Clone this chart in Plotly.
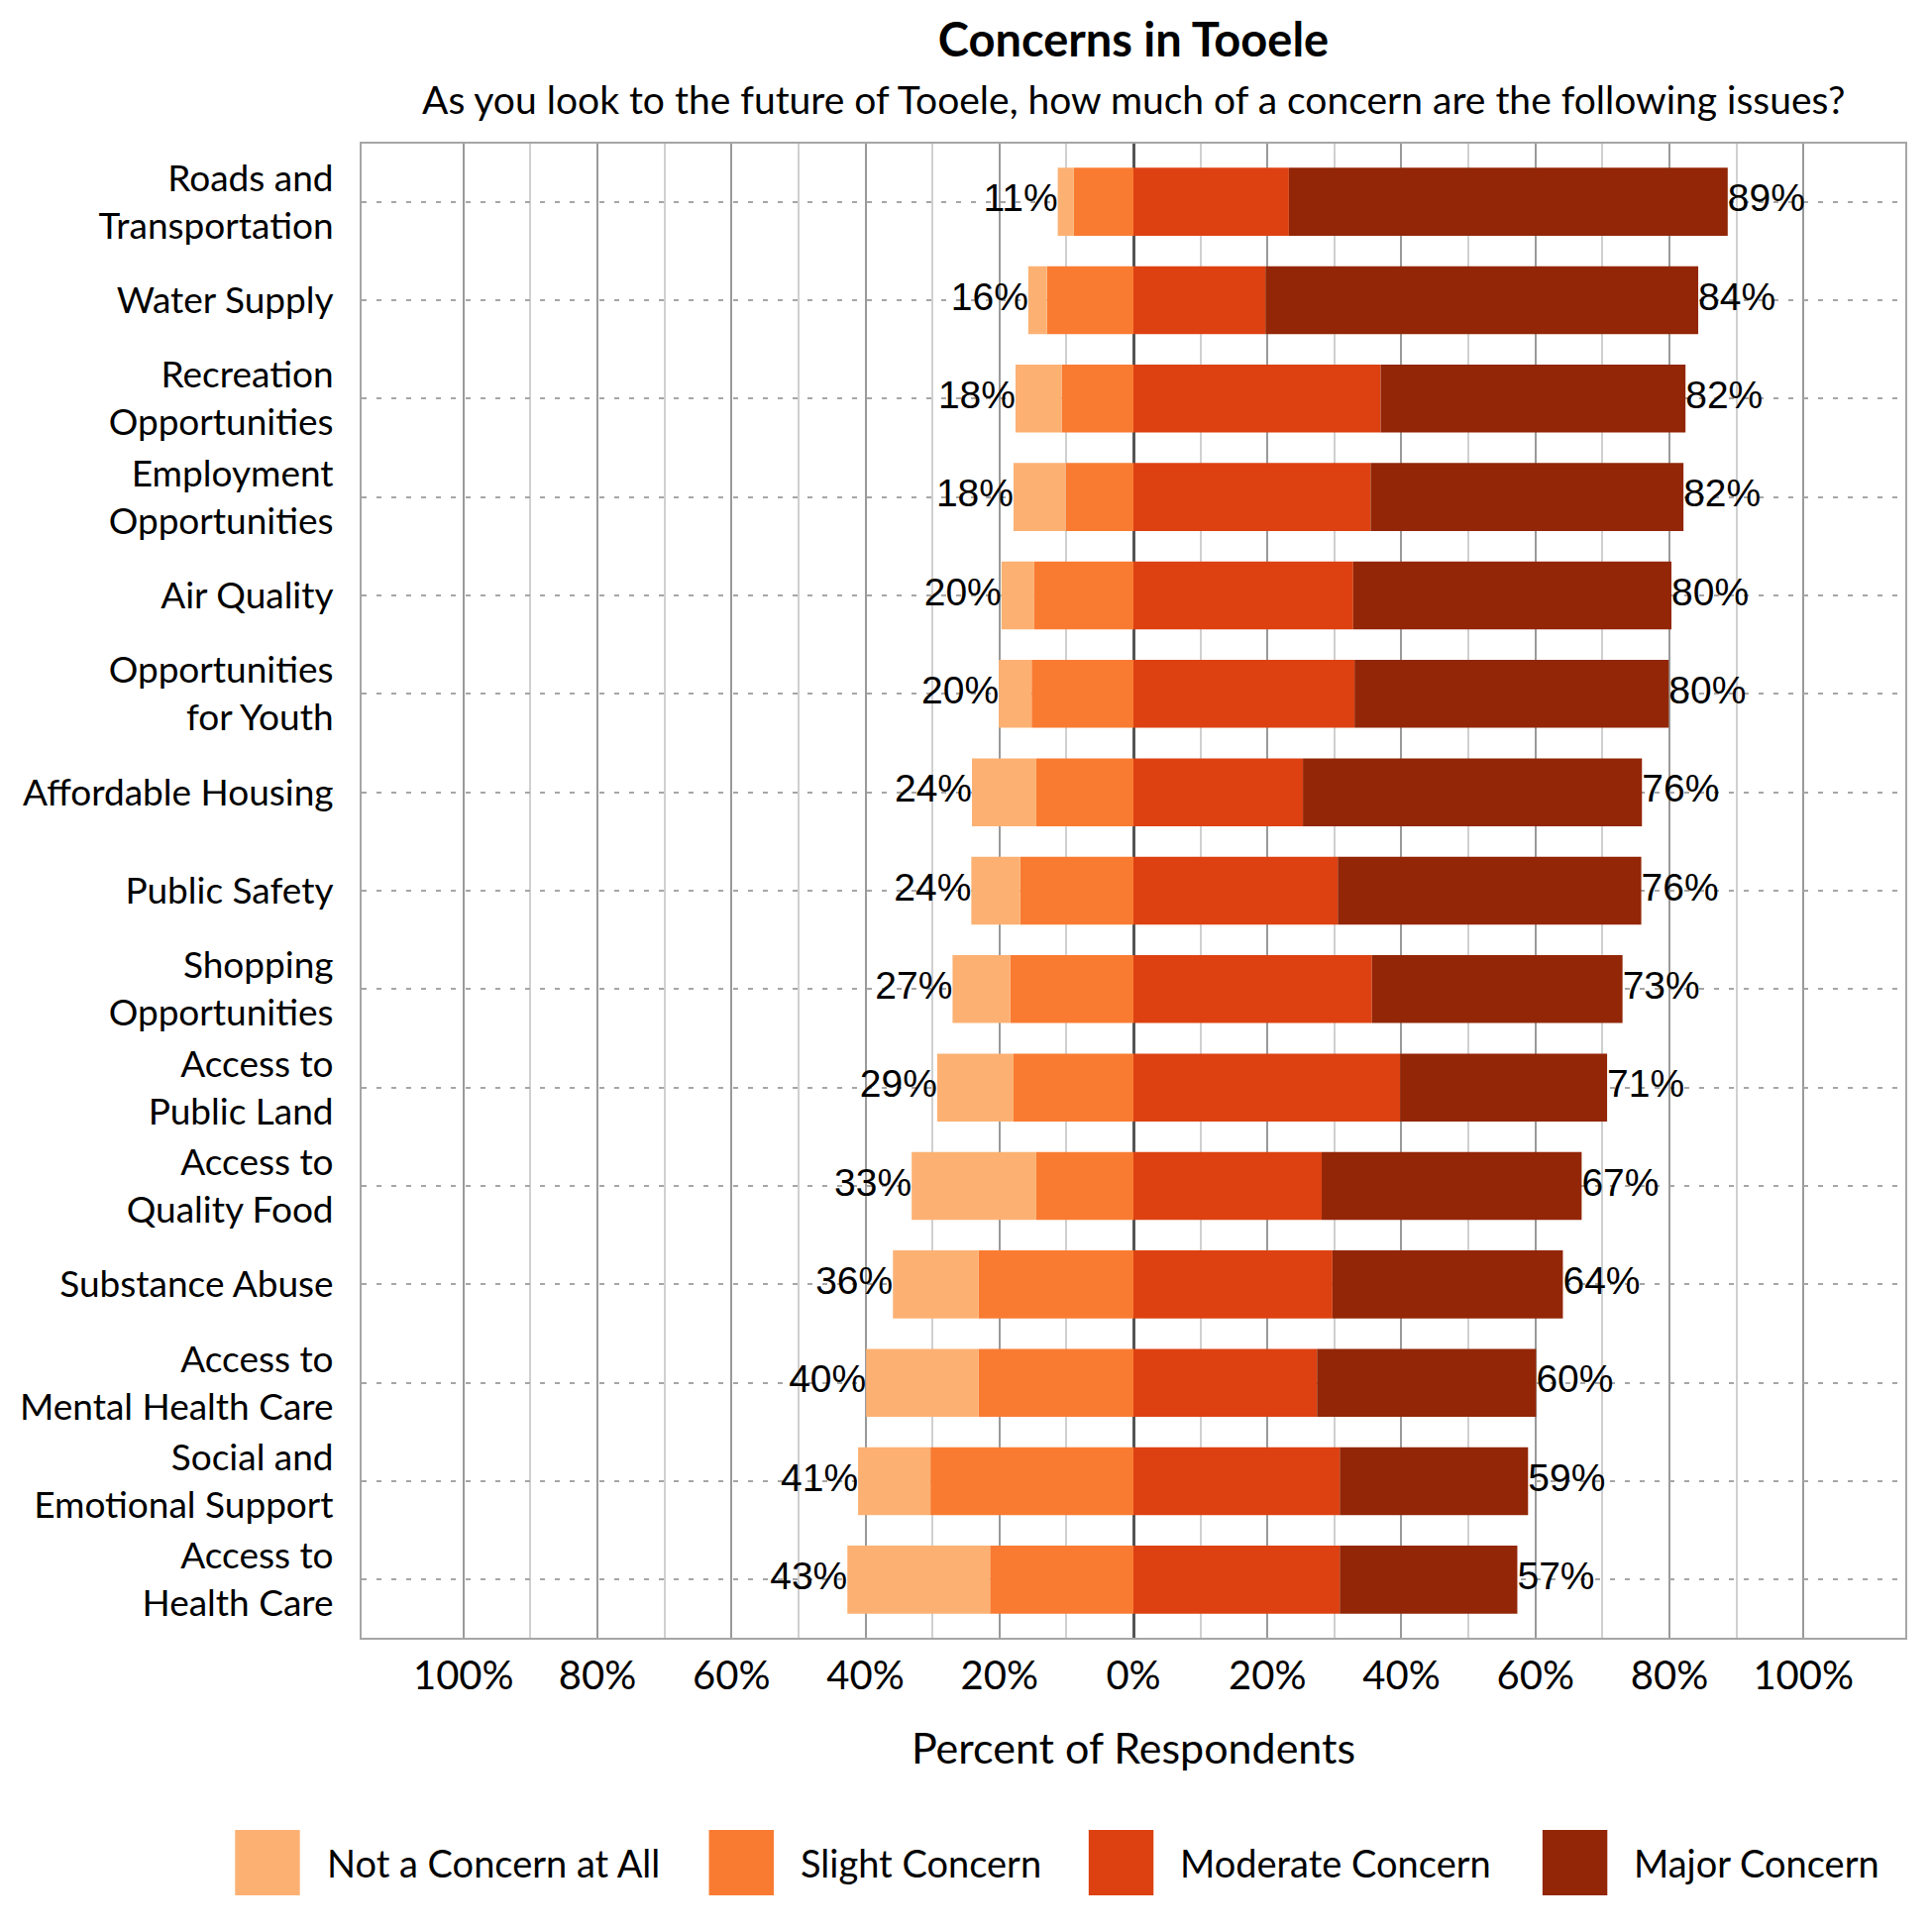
import plotly.graph_objects as go

categories = [
    "Roads and<br>Transportation",
    "Water Supply",
    "Recreation<br>Opportunities",
    "Employment<br>Opportunities",
    "Air Quality",
    "Opportunities<br>for Youth",
    "Affordable Housing",
    "Public Safety",
    "Shopping<br>Opportunities",
    "Access to<br>Public Land",
    "Access to<br>Quality Food",
    "Substance Abuse",
    "Access to<br>Mental Health Care",
    "Social and<br>Emotional Support",
    "Access to<br>Health Care",
]

# percent of respondents
not_concern = [2.4, 2.8, 6.9, 7.8, 4.9, 4.9, 9.6, 7.3, 8.6, 11.4, 18.6, 12.8, 16.8, 10.8, 21.3]
slight = [8.9, 12.9, 10.7, 10.1, 14.8, 15.2, 14.5, 16.9, 18.4, 17.9, 14.5, 23.1, 23.1, 30.3, 21.4]
moderate = [23.2, 19.7, 36.9, 35.4, 32.8, 33.0, 25.3, 30.5, 35.6, 39.8, 28.1, 29.7, 27.4, 30.8, 30.8]
major = [65.5, 64.6, 45.5, 46.7, 47.5, 46.9, 50.6, 45.3, 37.4, 30.9, 38.8, 34.4, 32.7, 28.1, 26.5]

series_names = ["Not a Concern at All", "Slight Concern", "Moderate Concern", "Major Concern"]
colors = ["#FCB173", "#F97B32", "#DD4111", "#922607"]

tick_vals = [-100, -80, -60, -40, -20, 0, 20, 40, 60, 80, 100]
tick_text = ["100%", "80%", "60%", "40%", "20%", "0%", "20%", "40%", "60%", "80%", "100%"]
minor_vals = [-90, -70, -50, -30, -10, 10, 30, 50, 70, 90]

LABEL_FONT = "Lato, 'Open Sans', sans-serif"
NUM_FONT = "'Liberation Sans', Arial, sans-serif"

neg_tot = [a + b for a, b in zip(not_concern, slight)]
pos_tot = [a + b for a, b in zip(moderate, major)]

fig = go.Figure()

# negative side stacks outward from zero: slight first, then not a concern
fig.add_trace(go.Bar(y=categories, x=[-v for v in slight], orientation="h",
                     marker=dict(color=colors[1], line_width=0), name=series_names[1], showlegend=False))
fig.add_trace(go.Bar(y=categories, x=[-v for v in not_concern], orientation="h",
                     marker=dict(color=colors[0], line_width=0), name=series_names[0], showlegend=False))
fig.add_trace(go.Bar(y=categories, x=moderate, orientation="h",
                     marker=dict(color=colors[2], line_width=0), name=series_names[2], showlegend=False))
fig.add_trace(go.Bar(y=categories, x=major, orientation="h",
                     marker=dict(color=colors[3], line_width=0), name=series_names[3], showlegend=False))

# total labels at both ends
fig.add_trace(go.Scatter(y=categories, x=[-v for v in neg_tot], mode="text",
                         text=[f"{round(v)}%" for v in neg_tot], textposition="middle left",
                         textfont=dict(family=NUM_FONT, size=39, color="black"),
                         showlegend=False, hoverinfo="skip", cliponaxis=False))
fig.add_trace(go.Scatter(y=categories, x=pos_tot, mode="text",
                         text=[f"{round(v)}%" for v in pos_tot], textposition="middle right",
                         textfont=dict(family=NUM_FONT, size=39, color="black"),
                         showlegend=False, hoverinfo="skip", cliponaxis=False))

# legend drawn by hand so the swatches can be large like the original
legend_x = [0.0, 0.307, 0.553, 0.847]
for i, name in enumerate(series_names):
    x0 = legend_x[i]
    fig.add_shape(type="rect", xref="paper", yref="paper",
                  x0=x0 - 0.082, x1=x0 - 0.04, y0=-0.1724, y1=-0.1286,
                  fillcolor=colors[i], line_width=0)
    fig.add_annotation(x=x0 - 0.024, y=-0.1505, xref="paper", yref="paper", text=name,
                       showarrow=False, xanchor="left", yanchor="middle",
                       font=dict(family=LABEL_FONT, size=38, color="black"))

# subtitle
fig.add_annotation(x=0.5, y=1.0298, xref="paper", yref="paper",
                   text="As you look to the future of Tooele, how much of a concern are the following issues?",
                   showarrow=False, xanchor="center", yanchor="middle",
                   font=dict(family=LABEL_FONT, size=39, color="black"))

fig.update_layout(
    width=1942, height=1942,
    barmode="relative", bargap=0.31,
    plot_bgcolor="white", paper_bgcolor="white",
    margin=dict(l=340, r=27, t=137, b=297),
    font=dict(family=LABEL_FONT, size=37, color="black"),
    title=dict(
        text="<b>Concerns in Tooele</b>",
        x=0.5, xref="paper", xanchor="center",
        y=0.983, yref="container", yanchor="middle",
        font=dict(family=LABEL_FONT, size=47, color="black"),
    ),
    xaxis=dict(
        range=[-115.2, 115.2],
        tickmode="array", tickvals=tick_vals, ticktext=tick_text,
        tickfont=dict(family=LABEL_FONT, size=40),
        ticklabelstandoff=2,
        showgrid=True, gridcolor="#9a9a9a", gridwidth=2,
        minor=dict(tickmode="array", tickvals=minor_vals, showgrid=True, gridcolor="#d0d0d0", gridwidth=1.5),
        zeroline=True, zerolinecolor="#555555", zerolinewidth=3,
        showline=True, linecolor="#a6a6a6", linewidth=2, mirror=True,
        title=dict(text="Percent of Respondents", standoff=37,
                   font=dict(family=LABEL_FONT, size=43)),
    ),
    yaxis=dict(
        type="category", categoryorder="array", categoryarray=categories,
        range=[14.59, -0.59],
        tickfont=dict(family=LABEL_FONT, size=37),
        ticklabelstandoff=19,
        showgrid=True, gridcolor="#a6a6a6", gridwidth=2, griddash="5px,10px",
        showline=True, linecolor="#a6a6a6", linewidth=2, mirror=True,
        zeroline=False,
    ),
)

fig.write_html("out.html")
